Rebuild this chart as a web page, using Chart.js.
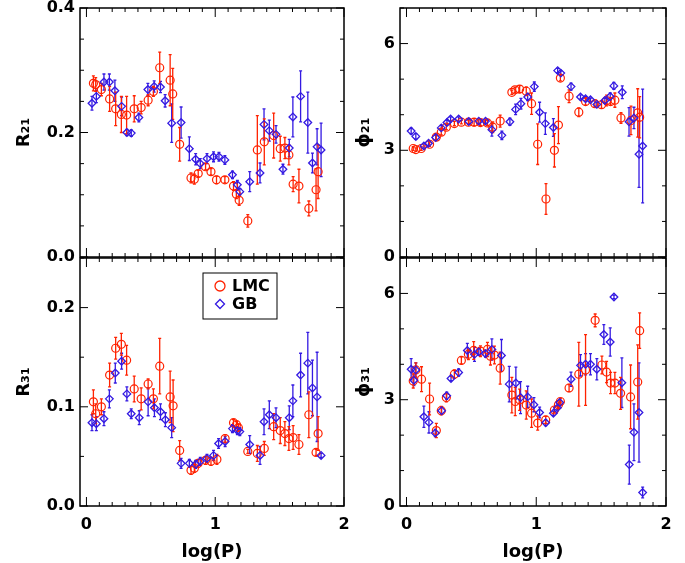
<html>
<head>
<script src="https://cdn.jsdelivr.net/npm/chart.js@4.4.0/dist/chart.umd.min.js"></script>
<style>
  body { margin: 0; background: #fff; }
  canvas { position: absolute; }
</style>
</head>
<body>
<canvas id="r21" width="350" height="270" style="left:0px;top:0px"></canvas>
<canvas id="p21" width="335" height="270" style="left:340px;top:0px"></canvas>
<canvas id="r31" width="350" height="313" style="left:0px;top:250px"></canvas>
<canvas id="p31" width="335" height="313" style="left:340px;top:250px"></canvas>
<script>
// ---- data (log P, value, error) ----
const xTicks = [0, 1, 2];
const rTicksTop = [0.0, 0.2, 0.4];
const rTicksBottom = [0.0, 0.1, 0.2];
const phiTicks = [0, 3, 6];

// R21
const r21LmcX = [0.054,0.072,0.116,0.18,0.227,0.271,0.312,0.371,0.425,0.479,0.52,0.569,0.65,0.67,0.724,0.812,0.838,0.868,0.925,0.967,1.01,1.075,1.142,1.164,1.186,1.253,1.327,1.381,1.454,1.505,1.541,1.572,1.605,1.65,1.727,1.783,1.799];
const r21Lmc = [0.279,0.277,0.269,0.254,0.238,0.229,0.228,0.238,0.240,0.252,0.266,0.304,0.284,0.262,0.181,0.127,0.125,0.134,0.145,0.137,0.124,0.124,0.114,0.101,0.091,0.058,0.172,0.185,0.195,0.174,0.175,0.164,0.117,0.114,0.078,0.108,0.137];
const r21LmcErr = [0.012,0.011,0.01,0.02,0.027,0.029,0.03,0.021,0.01,0.009,0.008,0.025,0.041,0.041,0.027,0.008,0.008,0.005,0.005,0.005,0.006,0.005,0.007,0.007,0.008,0.01,0.055,0.037,0.036,0.02,0.017,0.016,0.012,0.027,0.012,0.034,0.043];
const r21GbX = [0.043,0.077,0.136,0.178,0.221,0.273,0.314,0.348,0.407,0.477,0.526,0.575,0.611,0.662,0.735,0.799,0.848,0.884,0.936,0.987,1.029,1.075,1.134,1.172,1.191,1.268,1.348,1.379,1.42,1.472,1.526,1.575,1.603,1.663,1.719,1.755,1.791,1.822];
const r21Gb = [0.247,0.258,0.281,0.281,0.267,0.242,0.200,0.199,0.224,0.269,0.274,0.273,0.251,0.215,0.216,0.174,0.157,0.150,0.158,0.161,0.161,0.156,0.132,0.116,0.105,0.121,0.135,0.213,0.203,0.197,0.141,0.175,0.225,0.258,0.216,0.151,0.177,0.172];
const r21GbErr = [0.011,0.01,0.013,0.013,0.017,0.015,0.005,0.005,0.007,0.01,0.009,0.009,0.01,0.031,0.025,0.019,0.009,0.008,0.008,0.008,0.007,0.007,0.006,0.007,0.005,0.016,0.016,0.025,0.017,0.014,0.008,0.014,0.032,0.041,0.049,0.016,0.029,0.043];

// phi21
const p21LmcX = [0.052,0.072,0.114,0.178,0.23,0.268,0.307,0.369,0.423,0.477,0.521,0.57,0.624,0.665,0.722,0.812,0.836,0.872,0.923,0.964,1.011,1.075,1.14,1.171,1.186,1.253,1.328,1.38,1.452,1.503,1.542,1.573,1.606,1.653,1.73,1.782,1.797];
const p21Lmc = [3.05,3.02,3.05,3.17,3.37,3.51,3.65,3.75,3.79,3.79,3.79,3.78,3.77,3.65,3.82,4.63,4.70,4.72,4.66,4.31,3.17,1.63,3.00,3.71,5.03,4.52,4.07,4.37,4.31,4.28,4.40,4.37,4.41,3.91,3.84,4.05,3.93];
const p21LmcErr = [0.05,0.05,0.05,0.06,0.08,0.08,0.07,0.06,0.05,0.06,0.1,0.08,0.07,0.15,0.17,0.06,0.07,0.1,0.12,0.3,0.57,0.43,0.47,0.52,0.08,0.18,0.12,0.1,0.08,0.1,0.15,0.1,0.2,0.15,0.4,0.68,0.58];
const p21GbX = [0.036,0.072,0.134,0.17,0.225,0.268,0.312,0.34,0.402,0.48,0.557,0.609,0.658,0.735,0.797,0.841,0.882,0.934,0.985,1.026,1.07,1.132,1.165,1.189,1.268,1.341,1.38,1.418,1.467,1.529,1.57,1.598,1.663,1.715,1.753,1.792,1.82];
const p21Gb = [3.54,3.39,3.12,3.20,3.36,3.63,3.78,3.88,3.88,3.81,3.82,3.82,3.58,3.42,3.80,4.15,4.31,4.50,4.79,4.07,3.75,3.64,5.24,5.17,4.79,4.50,4.45,4.42,4.29,4.40,4.51,4.81,4.63,3.80,3.91,2.89,3.12];
const p21GbErr = [0.08,0.08,0.06,0.06,0.07,0.07,0.07,0.06,0.06,0.06,0.06,0.06,0.18,0.12,0.1,0.15,0.15,0.1,0.13,0.28,0.3,0.25,0.06,0.06,0.1,0.06,0.06,0.05,0.05,0.06,0.1,0.1,0.18,0.4,0.3,0.93,1.6];

// R31
const r31LmcX = [0.054,0.072,0.116,0.18,0.227,0.271,0.312,0.371,0.425,0.479,0.52,0.569,0.65,0.673,0.724,0.812,0.838,0.868,0.925,0.967,1.013,1.077,1.142,1.165,1.18,1.253,1.327,1.381,1.454,1.505,1.541,1.572,1.605,1.65,1.727,1.783,1.799];
const r31Lmc = [0.105,0.093,0.100,0.132,0.159,0.163,0.147,0.118,0.108,0.123,0.108,0.141,0.110,0.101,0.056,0.036,0.038,0.043,0.046,0.045,0.047,0.068,0.084,0.082,0.079,0.055,0.053,0.058,0.080,0.076,0.073,0.068,0.069,0.062,0.092,0.054,0.073];
const r31LmcErr = [0.012,0.01,0.008,0.012,0.011,0.011,0.015,0.013,0.011,0.005,0.01,0.028,0.026,0.026,0.01,0.004,0.004,0.004,0.004,0.004,0.005,0.004,0.003,0.003,0.003,0.002,0.008,0.007,0.013,0.013,0.012,0.012,0.012,0.01,0.023,0.003,0.017];
const r31GbX = [0.043,0.077,0.136,0.178,0.224,0.273,0.314,0.348,0.41,0.479,0.528,0.575,0.613,0.662,0.735,0.799,0.848,0.884,0.936,0.987,1.026,1.077,1.134,1.172,1.191,1.268,1.348,1.379,1.42,1.472,1.575,1.603,1.663,1.719,1.755,1.791,1.822];
const r31Gb = [0.084,0.083,0.088,0.108,0.134,0.146,0.113,0.093,0.089,0.105,0.099,0.095,0.087,0.079,0.043,0.043,0.042,0.045,0.048,0.051,0.063,0.065,0.078,0.076,0.075,0.062,0.051,0.085,0.092,0.089,0.089,0.106,0.132,0.144,0.119,0.110,0.051];
const r31GbErr = [0.008,0.007,0.007,0.009,0.01,0.008,0.007,0.005,0.007,0.014,0.009,0.008,0.007,0.01,0.005,0.004,0.004,0.004,0.004,0.005,0.005,0.005,0.004,0.004,0.004,0.009,0.009,0.013,0.014,0.01,0.012,0.016,0.022,0.031,0.028,0.045,0.002];

// phi31
const p31LmcX = [0.052,0.072,0.116,0.178,0.23,0.268,0.307,0.369,0.423,0.477,0.518,0.57,0.624,0.647,0.678,0.722,0.812,0.838,0.872,0.923,0.964,1.011,1.073,1.14,1.171,1.186,1.253,1.328,1.38,1.454,1.506,1.542,1.573,1.606,1.65,1.727,1.782,1.797];
const p31Lmc = [3.53,3.84,3.58,3.02,2.13,2.69,3.06,3.72,4.11,4.28,4.39,4.37,4.42,4.23,4.26,3.89,3.13,2.95,3.00,2.85,2.62,2.34,2.43,2.71,2.86,2.95,3.33,3.72,3.84,5.24,3.98,3.78,3.47,3.47,3.18,3.08,3.50,4.95];
const p31LmcErr = [0.2,0.2,0.35,0.45,0.2,0.12,0.12,0.12,0.1,0.15,0.25,0.15,0.2,0.25,0.25,0.45,0.5,0.4,0.3,0.4,0.4,0.2,0.1,0.08,0.08,0.08,0.1,0.9,1.0,0.18,0.25,0.3,0.3,0.3,0.45,0.9,1.05,0.5];
const p31GbX = [0.036,0.057,0.072,0.134,0.173,0.222,0.271,0.31,0.343,0.402,0.469,0.524,0.557,0.609,0.658,0.732,0.792,0.843,0.879,0.934,0.982,1.026,1.073,1.132,1.163,1.181,1.268,1.341,1.38,1.418,1.467,1.521,1.57,1.599,1.66,1.717,1.753,1.792,1.82];
const p31Gb = [3.86,3.55,3.84,2.52,2.36,2.06,2.69,3.11,3.60,3.77,4.39,4.28,4.35,4.30,4.42,4.25,3.44,3.47,3.06,3.08,2.86,2.64,2.35,2.62,2.77,2.92,3.58,3.97,4.00,4.00,3.86,4.84,4.63,5.90,3.48,1.17,2.08,2.64,0.38];
const p31GbErr = [0.3,0.15,0.2,0.3,0.3,0.1,0.1,0.1,0.06,0.1,0.2,0.2,0.1,0.1,0.3,0.45,0.5,0.45,0.45,0.3,0.2,0.15,0.08,0.06,0.06,0.06,0.2,0.3,0.3,0.3,0.3,0.28,0.4,0.05,0.7,0.55,0.8,1.4,0.15];

const RED = 'rgb(255,34,0)';
const BLUE = 'rgb(52,26,226)';

Chart.defaults.font.family = 'DejaVu Sans';
Chart.defaults.font.weight = 'bold';
Chart.defaults.color = '#000';

function pts(xs, ys) {
  return xs.map((x, i) => ({ x: x, y: ys[i] }));
}

// error bars, drawn under the markers
const errBars = {
  id: 'errBars',
  beforeDatasetsDraw(chart) {
    const ctx = chart.ctx, y = chart.scales.y;
    chart.data.datasets.forEach((ds, i) => {
      const meta = chart.getDatasetMeta(i);
      ctx.save();
      ctx.strokeStyle = ds.borderColor;
      ctx.lineWidth = 1.3;
      meta.data.forEach((p, j) => {
        const v = ds.data[j].y, e = ds.err[j];
        const y1 = y.getPixelForValue(v - e), y2 = y.getPixelForValue(v + e);
        ctx.beginPath();
        ctx.moveTo(p.x, y1); ctx.lineTo(p.x, y2);
        ctx.moveTo(p.x - 1.5, y1); ctx.lineTo(p.x + 1.5, y1);
        ctx.moveTo(p.x - 1.5, y2); ctx.lineTo(p.x + 1.5, y2);
        ctx.stroke();
      });
      ctx.restore();
    });
  }
};

// box round the plot with inward ticks (IDL style)
const frame = {
  id: 'frame',
  afterDraw(chart, args, opts) {
    const ctx = chart.ctx, a = chart.chartArea;
    const x = chart.scales.x, y = chart.scales.y;
    ctx.save();
    ctx.strokeStyle = '#000';
    ctx.lineWidth = 1.5;
    ctx.strokeRect(a.left, a.top, a.right - a.left, a.bottom - a.top);
    ctx.lineWidth = 1;
    ctx.beginPath();
    for (let i = 0; i <= 20; i++) {
      const px = x.getPixelForValue(i / 10);
      const len = i % 10 == 0 ? 9 : 4;
      ctx.moveTo(px, a.bottom); ctx.lineTo(px, a.bottom - len);
      ctx.moveTo(px, a.top); ctx.lineTo(px, a.top + len);
    }
    const n = Math.round(y.max / opts.step);
    for (let i = 0; i <= n; i++) {
      const v = i * opts.step;
      const py = y.getPixelForValue(v);
      const r = v / opts.major;
      const len = Math.abs(r - Math.round(r)) < 1e-6 ? 8 : 4;
      ctx.moveTo(a.left, py); ctx.lineTo(a.left + len, py);
      ctx.moveTo(a.right, py); ctx.lineTo(a.right - len, py);
    }
    ctx.stroke();
    ctx.restore();
  }
};

// boxed legend in the R31 panel
const boxLegend = {
  id: 'boxLegend',
  afterDraw(chart, args, opts) {
    if (!opts.show) return;
    const ctx = chart.ctx, a = chart.chartArea;
    const bx = a.left + 123, by = a.top + 15;
    ctx.save();
    ctx.strokeStyle = '#000';
    ctx.lineWidth = 1;
    ctx.strokeRect(bx, by, 74, 46);
    ctx.lineWidth = 1.3;
    ctx.strokeStyle = RED;
    ctx.beginPath();
    ctx.arc(bx + 17, by + 13, 5, 0, Math.PI * 2);
    ctx.stroke();
    ctx.strokeStyle = BLUE;
    ctx.beginPath();
    ctx.moveTo(bx + 12.5, by + 31); ctx.lineTo(bx + 17, by + 26.5);
    ctx.lineTo(bx + 21.5, by + 31); ctx.lineTo(bx + 17, by + 35.5);
    ctx.closePath();
    ctx.stroke();
    ctx.fillStyle = '#000';
    ctx.font = 'bold 16px "DejaVu Sans"';
    ctx.textBaseline = 'middle';
    ctx.fillText('LMC', bx + 29, by + 14);
    ctx.fillText('GB', bx + 29, by + 32);
    ctx.restore();
  }
};

function panel(id, o) {
  new Chart(document.getElementById(id), {
    type: 'scatter',
    data: {
      datasets: [
        { label: 'GB', data: pts(o.gbX, o.gb), err: o.gbErr, borderColor: BLUE, backgroundColor: 'rgba(0,0,0,0)',
          pointStyle: 'rectRot', pointRadius: 3.8, borderWidth: 1.3 },
        { label: 'LMC', data: pts(o.lmcX, o.lmc), err: o.lmcErr, borderColor: RED, backgroundColor: 'rgba(0,0,0,0)',
          pointStyle: 'circle', pointRadius: 4, borderWidth: 1.2 }
      ]
    },
    options: {
      responsive: false,
      animation: false,
      events: [],
      layout: { autoPadding: false, padding: o.pad },
      plugins: {
        legend: { display: false },
        tooltip: { enabled: false },
        frame: { step: o.step, major: o.major },
        boxLegend: { show: !!o.legend }
      },
      scales: {
        x: {
          type: 'linear', min: -0.05, max: 2,
          display: o.bottom,
          grid: { display: false, drawTicks: true, tickLength: 11 },
          border: { display: false },
          ticks: { padding: 0, font: { size: 16, lineHeight: 1.0 }, callback: v => String(v) },
          title: { display: true, text: 'log(P)', font: { size: 18 }, padding: 0 },
          afterBuildTicks: s => { s.ticks = xTicks.map(v => ({ value: v })); },
          afterFit: s => { if (o.bottom) s.height = 57; }
        },
        y: {
          type: 'linear', min: 0, max: o.max,
          grid: { display: false, drawTicks: true, tickLength: 5 },
          border: { display: false },
          ticks: { padding: 0, font: { size: 16, lineHeight: 1.0 }, callback: o.fmt },
          title: { display: true, text: o.title, font: { size: 18 }, padding: 0 },
          afterBuildTicks: s => { s.ticks = o.ticks.map(v => ({ value: v })); },
          afterFit: s => { s.width = o.yw; }
        }
      }
    },
    plugins: [errBars, frame, boxLegend]
  });
}

const f1 = v => v.toFixed(1);
const f0 = v => String(v);

panel('r21', { lmcX: r21LmcX, lmc: r21Lmc, lmcErr: r21LmcErr, gbX: r21GbX, gb: r21Gb, gbErr: r21GbErr,
  max: 0.4, ticks: rTicksTop, step: 0.05, major: 0.2, fmt: f1, title: 'R\u2082\u2081', yw: 66, bottom: false,
  pad: { top: 8, right: 6, bottom: 13, left: 14 } });
panel('p21', { lmcX: p21LmcX, lmc: p21Lmc, lmcErr: p21LmcErr, gbX: p21GbX, gb: p21Gb, gbErr: p21GbErr,
  max: 7, ticks: phiTicks, step: 1, major: 3, fmt: f0, title: '\u03d5\u2082\u2081', yw: 46, bottom: false,
  pad: { top: 8, right: 9, bottom: 13, left: 14 } });
panel('r31', { lmcX: r31LmcX, lmc: r31Lmc, lmcErr: r31LmcErr, gbX: r31GbX, gb: r31Gb, gbErr: r31GbErr,
  max: 0.25, ticks: rTicksBottom, step: 0.05, major: 0.1, fmt: f1, title: 'R\u2083\u2081', yw: 66, bottom: true, legend: true,
  pad: { top: 7, right: 6, bottom: 0, left: 14 } });
panel('p31', { lmcX: p31LmcX, lmc: p31Lmc, lmcErr: p31LmcErr, gbX: p31GbX, gb: p31Gb, gbErr: p31GbErr,
  max: 7, ticks: phiTicks, step: 1, major: 3, fmt: f0, title: '\u03d5\u2083\u2081', yw: 46, bottom: true,
  pad: { top: 7, right: 9, bottom: 0, left: 14 } });
</script>
</body>
</html>
